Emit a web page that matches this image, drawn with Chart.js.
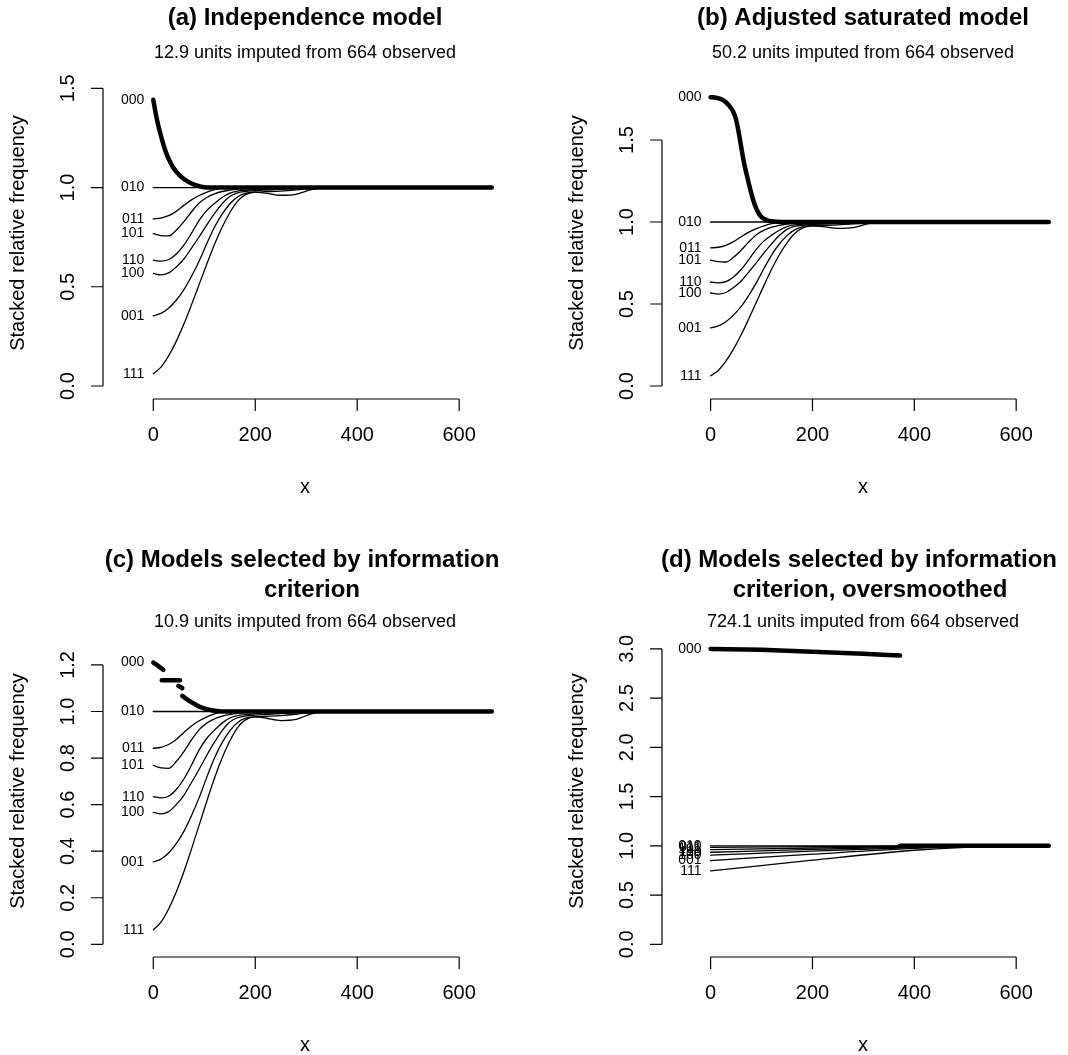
<!DOCTYPE html>
<html>
<head>
<meta charset="utf-8">
<script src="https://cdn.jsdelivr.net/npm/chart.js@4.4.1/dist/chart.umd.min.js"></script>
<style>
body { margin: 0; background: #fff; width: 1068px; height: 1055px; position: relative; overflow: hidden; }
canvas { position: absolute; }
</style>
</head>
<body>
<canvas id="pa" width="534" height="500" style="left:0;top:0"></canvas>
<canvas id="pb" width="534" height="500" style="left:534px;top:0"></canvas>
<canvas id="pc" width="534" height="555" style="left:0;top:500px"></canvas>
<canvas id="pd" width="534" height="555" style="left:534px;top:500px"></canvas>
<script>
// shared x grid for the observed-pattern curves (panels a, b, c)
const xGrid = [0, 15, 30, 45, 60, 75, 90, 105, 120, 135, 150, 165, 180, 200, 220, 250, 280, 310, 340, 664];
const f011 = [0.842, 0.846, 0.858, 0.880, 0.910, 0.938, 0.960, 0.977, 0.990, 0.997, 1, 1, 1, 1, 1, 1, 1, 1, 1, 1];
const f101 = [0.768, 0.758, 0.756, 0.785, 0.828, 0.878, 0.922, 0.950, 0.968, 0.980, 0.987, 0.992, 0.995, 0.998, 1, 1, 1, 1, 1, 1];
const f110 = [0.634, 0.629, 0.636, 0.665, 0.710, 0.770, 0.835, 0.885, 0.920, 0.950, 0.972, 0.982, 0.986, 0.990, 0.993, 0.997, 1, 1, 1, 1];
const f100 = [0.567, 0.560, 0.570, 0.600, 0.640, 0.695, 0.752, 0.812, 0.868, 0.918, 0.955, 0.973, 0.980, 0.984, 0.987, 0.991, 0.995, 0.999, 1, 1];
const f001 = [0.354, 0.366, 0.392, 0.432, 0.485, 0.553, 0.630, 0.718, 0.800, 0.866, 0.917, 0.952, 0.970, 0.977, 0.979, 0.982, 0.988, 0.996, 1, 1];
const f111 = [0.062, 0.095, 0.152, 0.225, 0.312, 0.410, 0.512, 0.615, 0.713, 0.800, 0.873, 0.930, 0.963, 0.977, 0.972, 0.961, 0.966, 0.990, 1, 1];
const x010 = [0, 664];
const y010 = [1, 1];

// imputed "000" layer, one per panel (null = break between pieces)
const a000x = [0, 5, 10, 15, 20, 25, 30, 40, 50, 60, 75, 90, 105, 664];
const a000y = [1.442, 1.37, 1.31, 1.261, 1.215, 1.176, 1.145, 1.097, 1.066, 1.043, 1.020, 1.007, 1.0, 1.0];
const b000x = [0, 10, 20, 30, 40, 45, 50, 55, 60, 65, 70, 75, 80, 85, 90, 95, 100, 110, 120, 140, 664];
const b000y = [1.761, 1.758, 1.750, 1.730, 1.695, 1.668, 1.625, 1.550, 1.460, 1.370, 1.300, 1.235, 1.175, 1.120, 1.080, 1.050, 1.030, 1.012, 1.004, 1.0, 1.0];
const c000x = [0, 10, 19.6, 19.6, 16.5, 52.4, 52.4, 49, 56.9, 56.9, 56.9, 66, 75.3, 85, 94.9, 105, 114.6, 134.2, 664];
const c000y = [1.210, 1.195, 1.179, null, 1.134, 1.134, null, 1.110, 1.100, null, 1.067, 1.052, 1.039, 1.027, 1.017, 1.010, 1.0056, 1.0, 1.0];
const d000x = [0, 100, 200, 300, 372, 372, 372, 664];
const d000y = [3.0, 2.99, 2.972, 2.95, 2.932, null, 1.0, 1.0];

// oversmoothed panel (d)
const dGrid = [0, 200, 400, 500, 664];
const d011 = [0.984, 0.991, 0.997, 0.999, 1];
const d101 = [0.962, 0.978, 0.993, 0.998, 1];
const d110 = [0.935, 0.963, 0.989, 0.996, 1];
const d100 = [0.905, 0.946, 0.983, 0.994, 1];
const d001 = [0.850, 0.915, 0.974, 0.991, 1];
const d111 = [0.745, 0.855, 0.955, 0.985, 1];

const xTicks = [0, 200, 400, 600];
const yTicksA = [0, 0.5, 1.0, 1.5];
const yTicksC = [0, 0.2, 0.4, 0.6, 0.8, 1.0, 1.2];
const yTicksD = [0, 0.5, 1.0, 1.5, 2.0, 2.5, 3.0];

const FONT = '"Liberation Sans", Arial, Helvetica, sans-serif';

function pts(xs, ys) {
    return xs.map((x, i) => ({ x: x, y: ys[i] }));
}

function line(xs, ys, tag, w) {
    return {
        data: pts(xs, ys), tag: tag, borderColor: '#000', borderWidth: w || 1.3,
        pointRadius: 0, fill: false, spanGaps: false, clip: false,
        cubicInterpolationMode: 'monotone', borderCapStyle: 'round', borderJoinStyle: 'round'
    };
}

function observedSets(xs, s011, s101, s110, s100, s001, s111) {
    return [
        line(x010, y010, '010'),
        line(xs, s011, '011'), line(xs, s101, '101'), line(xs, s110, '110'),
        line(xs, s100, '100'), line(xs, s001, '001'), line(xs, s111, '111')
    ];
}

// R-style axes, titles and curve labels
const rStyle = {
    id: 'rStyle',
    afterDraw(chart, args, o) {
        const ctx = chart.ctx, ca = chart.chartArea, x = chart.scales.x, y = chart.scales.y;
        const cx = (ca.left + ca.right) / 2;
        ctx.save();
        ctx.strokeStyle = '#000';
        ctx.fillStyle = '#000';
        ctx.lineWidth = 1.2;
        ctx.beginPath();
        const yt = o.yTicks;
        ctx.moveTo(ca.left, y.getPixelForValue(yt[0]));
        ctx.lineTo(ca.left, y.getPixelForValue(yt[yt.length - 1]));
        yt.forEach(v => { const p = y.getPixelForValue(v); ctx.moveTo(ca.left, p); ctx.lineTo(ca.left - 12, p); });
        ctx.moveTo(x.getPixelForValue(xTicks[0]), ca.bottom);
        ctx.lineTo(x.getPixelForValue(xTicks[xTicks.length - 1]), ca.bottom);
        xTicks.forEach(v => { const p = x.getPixelForValue(v); ctx.moveTo(p, ca.bottom); ctx.lineTo(p, ca.bottom + 12); });
        ctx.stroke();

        ctx.font = '20px ' + FONT;
        ctx.textAlign = 'center';
        ctx.textBaseline = 'middle';
        yt.forEach(v => {
            ctx.save();
            ctx.translate(ca.left - 35, y.getPixelForValue(v));
            ctx.rotate(-Math.PI / 2);
            ctx.fillText(v.toFixed(1), 0, 0);
            ctx.restore();
        });
        xTicks.forEach(v => ctx.fillText(String(v), x.getPixelForValue(v), ca.bottom + 36));
        ctx.fillText('x', cx, ca.bottom + 88);
        ctx.save();
        ctx.translate(ca.left - 85, (ca.top + ca.bottom) / 2);
        ctx.rotate(-Math.PI / 2);
        ctx.fillText('Stacked relative frequency', 0, 0);
        ctx.restore();

        ctx.font = 'bold 24px ' + FONT;
        o.title.forEach((t, i) => ctx.fillText(t, cx + o.titleDx[i], o.titleY[i]));
        ctx.font = '18px ' + FONT;
        ctx.fillText(o.sub, cx, o.subY);

        ctx.font = '14px ' + FONT;
        ctx.textAlign = 'right';
        chart.data.datasets.forEach(ds => {
            if (!ds.tag) return;
            const p = ds.data[0];
            ctx.fillText(ds.tag, x.getPixelForValue(p.x) - 9, y.getPixelForValue(p.y));
        });
        ctx.restore();
    }
};

function panel(id, sets, pad, xr, yr, style) {
    new Chart(document.getElementById(id), {
        type: 'line',
        data: { datasets: sets },
        options: {
            responsive: false, animation: false, devicePixelRatio: 1, events: [],
            layout: { padding: pad },
            scales: {
                x: { type: 'linear', min: xr[0], max: xr[1], display: false },
                y: { type: 'linear', min: yr[0], max: yr[1], display: false }
            },
            plugins: { legend: { display: false }, tooltip: { enabled: false }, rStyle: style }
        },
        plugins: [rStyle]
    });
}

panel('pa',
    observedSets(xGrid, f011, f101, f110, f100, f001, f111).concat([line(a000x, a000y, '000', 4.5)]),
    { left: 103, top: 67, right: 27, bottom: 101 }, [-98.66, 693.8], [-0.0655, 1.6073],
    { yTicks: yTicksA, title: ['(a) Independence model'], titleDx: [0], titleY: [18], sub: '12.9 units imputed from 664 observed', subY: 53 });

panel('pb',
    observedSets(xGrid, f011, f101, f110, f100, f001, f111).concat([line(b000x, b000y, '000', 4.5)]),
    { left: 128, top: 67, right: 4, bottom: 101 }, [-95.42, 693.9], [-0.0793, 1.9451],
    { yTicks: yTicksA, title: ['(b) Adjusted saturated model'], titleDx: [0], titleY: [18], sub: '50.2 units imputed from 664 observed', subY: 53 });

panel('pc',
    observedSets(xGrid, f011, f101, f110, f100, f001, f111).concat([line(c000x, c000y, '000', 4.5)]),
    { left: 103, top: 125, right: 27, bottom: 98 }, [-98.66, 693.8], [-0.0545, 1.3714],
    { yTicks: yTicksC, title: ['(c) Models selected by information', 'criterion'], titleDx: [-3, 7], titleY: [60, 90], sub: '10.9 units imputed from 664 observed', subY: 122 });

panel('pd',
    observedSets(dGrid, d011, d101, d110, d100, d001, d111).concat([line(d000x, d000y, '000', 4.5)]),
    { left: 128, top: 125, right: 4, bottom: 98 }, [-95.42, 693.9], [-0.129, 3.2426],
    { yTicks: yTicksD, title: ['(d) Models selected by information', 'criterion, oversmoothed'], titleDx: [-4, 7], titleY: [60, 90], sub: '724.1 units imputed from 664 observed', subY: 122 });
</script>
</body>
</html>
